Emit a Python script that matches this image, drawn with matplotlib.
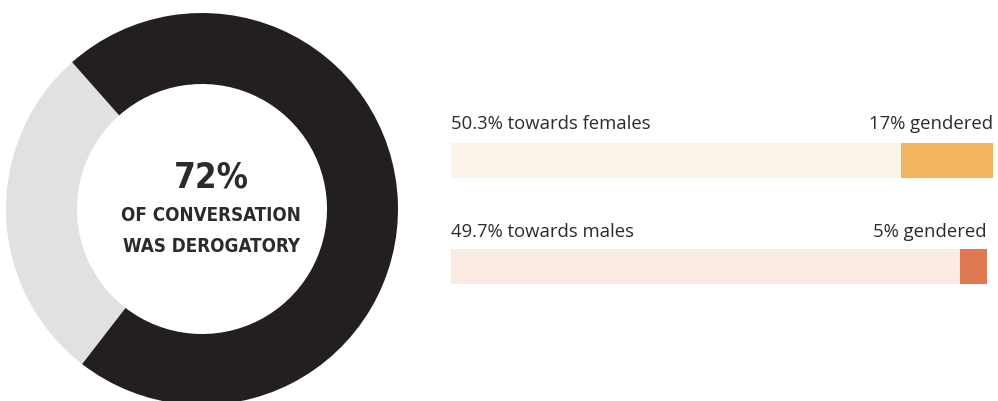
import matplotlib
matplotlib.use("Agg")
import matplotlib.pyplot as plt

# donut: share of conversation that was derogatory
donut_values = [28, 72]
donut_colors = ["#e0e1e3", "#231f20"]
headline = "72%"
subline = ["OF CONVERSATION", "WAS DEROGATORY"]

# bars: share of derogatory talk by target, and how much of it was gendered
groups = ["females", "males"]
shares = [50.3, 49.7]
gendered = [17, 5]
base_colors = ["#fcf3e8", "#f9ebe3"]
accent_colors = ["#f2b45f", "#e07853"]

TXT = "#2b2b2b"
W, H = 998, 402

fig = plt.figure(figsize=(W / 100, H / 100), dpi=100)

# donut, drawn in pixel-like data coordinates
ax = fig.add_axes([0, 0, 1, 1])
ax.pie(donut_values, colors=donut_colors, startangle=131.5, counterclock=True,
       center=(202, H - 210), radius=196,
       wedgeprops=dict(width=196 - 125, linewidth=0))
ax.set_xlim(0, W)
ax.set_ylim(0, H)
ax.set_aspect("equal")
ax.axis("off")

cond = ["DejaVu Sans Condensed", "Liberation Sans Narrow", "DejaVu Sans"]
ax.text(211, H - 188, headline, ha="center", va="baseline", fontsize=25,
        fontweight="bold", fontstretch="condensed", family=cond, color=TXT)
ax.text(211, H - 221, subline[0], ha="center", va="baseline", fontsize=13.5,
        fontweight="bold", fontstretch="condensed", family=cond, color=TXT)
ax.text(211, H - 252, subline[1], ha="center", va="baseline", fontsize=13.5,
        fontweight="bold", fontstretch="condensed", family=cond, color=TXT)

# bars
bx = fig.add_axes([451 / W, (H - 300) / H, (993 - 451) / W, 200 / H])
bx.set_xlim(0, max(shares))
bx.set_ylim(300, 100)
bx.axis("off")

ys = [161, 267.5]
label_y = [129, 237]
for i, g in enumerate(groups):
    s = shares[i]
    cut = s * (1 - gendered[i] / 100)
    bx.barh(ys[i], cut, height=35, left=0, color=base_colors[i], linewidth=0)
    bx.barh(ys[i], s - cut, height=35, left=cut, color=accent_colors[i], linewidth=0)
    bx.text(0, label_y[i], f"{s}% towards {g}", ha="left", va="baseline",
            fontsize=13.3, family="Open Sans", color=TXT)
    bx.text(s, label_y[i], f"{gendered[i]}% gendered", ha="right", va="baseline",
            fontsize=13.3, family="Open Sans", color=TXT)

fig.savefig("out.png", dpi=100, facecolor="white")
